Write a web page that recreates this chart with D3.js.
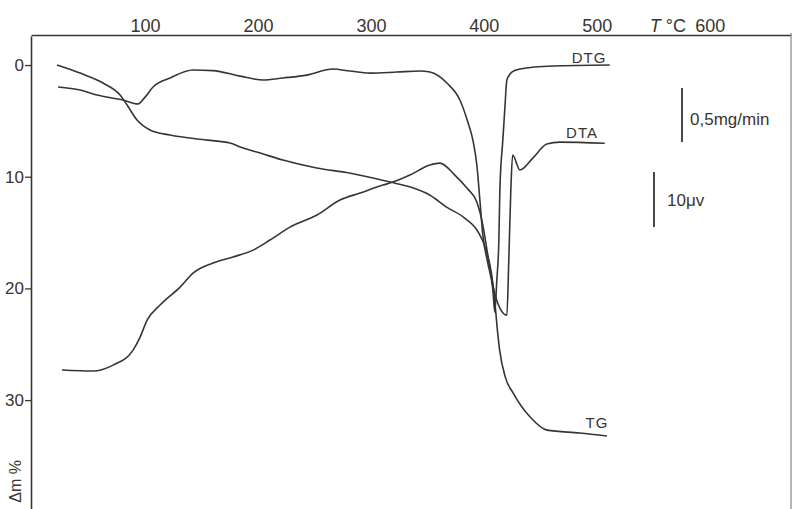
<!DOCTYPE html>
<html><head><meta charset="utf-8">
<script src="https://cdn.jsdelivr.net/npm/d3@7"></script>
<style>
html,body{margin:0;padding:0;background:#fff;}
svg{display:block;}
text{font-family:"Liberation Sans",Arial,sans-serif;fill:#3a342f;}
</style></head>
<body>
<svg id="chart" width="796" height="509"></svg>
<script>
// ---- data (temperature °C, value in left-axis units) ----
const tempTicks = [100, 200, 300, 400, 500, 600];
const massTicks = [0, 10, 20, 30];

const tgT = [22, 42.5, 62.8, 77.9, 84.1, 92.9, 104.4, 122.1, 154.9, 175.2, 184.1, 202, 222, 252, 281, 317, 335, 352, 367, 383, 395, 402, 407, 410, 412, 414, 419, 426, 441, 456, 485, 509];
const tgV = [0, 0.72, 1.61, 2.69, 3.58, 4.93, 5.82, 6.27, 6.72, 6.98, 7.34, 7.88, 8.51, 9.22, 9.67, 10.48, 10.93, 11.64, 12.72, 13.70, 14.95, 16.57, 18.81, 21.49, 23.73, 25.52, 27.94, 29.37, 31.52, 32.69, 32.95, 33.22];

const dtaT = [26.5, 54, 71.7, 89.4, 95.6, 101.8, 113.3, 131, 142.5, 160.2, 177.9, 195.6, 210.6, 228.3, 252.2, 272.6, 290.3, 310.6, 319.5, 334.5, 352.2, 361.1, 374.3, 385, 393.8, 399.1, 403.5, 408, 414.2, 420.4, 422.1, 423.9, 425.5, 431.9, 443.4, 455.8, 467.3, 507];
const dtaV = [27.31, 27.40, 26.87, 25.52, 24.36, 22.84, 21.49, 19.88, 18.63, 17.73, 17.19, 16.57, 15.67, 14.51, 13.43, 12.09, 11.46, 10.75, 10.48, 9.85, 8.95, 8.78, 9.85, 11.01, 12.27, 14.33, 17.01, 19.70, 21.76, 22.39, 17.46, 11.19, 8.06, 9.40, 8.33, 7.07, 6.90, 7.0];

const dtgT = [23, 42.5, 57.5, 80.5, 93.8, 100, 107.1, 122.1, 142.5, 160, 184.1, 204.4, 222.1, 243.4, 266.4, 281.4, 299.1, 323, 343.4, 352.2, 367.3, 378.8, 385.8, 390.3, 393.8, 396.5, 399.1, 403.5, 408, 409.7, 411.5, 413.3, 414.2, 416.8, 418.6, 420.4, 424.8, 431.9, 461, 511.5];
const dtgV = [1.97, 2.24, 2.69, 3.13, 3.49, 2.87, 1.97, 1.16, 0.45, 0.50, 0.99, 1.34, 1.16, 0.90, 0.36, 0.54, 0.72, 0.63, 0.54, 0.63, 1.61, 3.13, 5.10, 6.72, 8.95, 12.09, 15.22, 17.73, 20.15, 22.12, 19.25, 15.67, 11.19, 6.72, 3.90, 1.34, 0.63, 0.36, 0.09, 0.0];

const seriesNames = ["TG", "DTA", "DTG"];
const scaleBarLabels = ["0,5mg/min", "10\u03bcv"];
const axisTitleY = "\u0394m %";

// ---- drawing ----
const svg = d3.select("#chart");
const ink = "#3a342f";

const x = d3.scaleLinear().domain([-1, 672]).range([31, 791]);
const y = d3.scaleLinear().domain([-2.6, 39.75]).range([36, 509]);

// top temperature axis
const gTop = svg.append("g").attr("transform", "translate(0,35)")
  .call(d3.axisTop(x).tickValues(tempTicks).tickSize(0).tickPadding(3).tickFormat(d3.format("d")));
gTop.select(".domain").attr("stroke", ink).attr("stroke-width", 1.6);
gTop.selectAll("text").attr("font-size", 18).attr("fill", ink)
  .attr("font-family", '"Liberation Sans",Arial,sans-serif');

svg.append("text").attr("x", 686).attr("y", 32).attr("text-anchor", "end")
  .attr("font-size", 18)
  .html('<tspan font-style="italic">T</tspan> \u00b0C');

// left mass axis
const gLeft = svg.append("g").attr("transform", "translate(31,0)")
  .call(d3.axisLeft(y).tickValues(massTicks).tickSize(6).tickSizeOuter(0).tickPadding(1));
gLeft.select(".domain").attr("stroke", ink).attr("stroke-width", 1.6);
gLeft.selectAll(".tick line").attr("stroke", ink).attr("stroke-width", 1.3);
gLeft.selectAll("text").attr("font-size", 17).attr("fill", ink)
  .attr("font-family", '"Liberation Sans",Arial,sans-serif');

svg.append("text").attr("transform", "translate(21,460) rotate(-90)")
  .attr("text-anchor", "end").attr("font-size", 16).text(axisTitleY);

// right frame line
svg.append("line").attr("x1", 791).attr("x2", 791).attr("y1", 33).attr("y2", 509)
  .attr("stroke", "#8a8682").attr("stroke-width", 1.2);

// curves
const line = d3.line().x(d => x(d[0])).y(d => y(d[1])).curve(d3.curveMonotoneX);
const series = [
  {name: seriesNames[0], T: tgT, V: tgV},
  {name: seriesNames[1], T: dtaT, V: dtaV},
  {name: seriesNames[2], T: dtgT, V: dtgV}
];
series.forEach(s => {
  const pts = s.T.map((t, i) => [t, s.V[i]]);
  svg.append("path").datum(pts).attr("d", line)
    .attr("fill", "none").attr("stroke", ink).attr("stroke-width", 1.6)
    .attr("stroke-linejoin", "round");
});

// series labels
const lab = [
  {t: "DTG", x: 589, y: 63},
  {t: "DTA", x: 582, y: 138},
  {t: "TG", x: 597, y: 428}
];
lab.forEach(l => svg.append("text").attr("x", l.x).attr("y", l.y)
  .attr("text-anchor", "middle").attr("font-size", 15).attr("letter-spacing", 1).text(l.t));

// scale bars
svg.append("line").attr("x1", 682).attr("x2", 682).attr("y1", 88).attr("y2", 142)
  .attr("stroke", ink).attr("stroke-width", 1.8);
svg.append("text").attr("x", 690).attr("y", 125).attr("font-size", 17).text(scaleBarLabels[0]);
svg.append("line").attr("x1", 654).attr("x2", 654).attr("y1", 172).attr("y2", 227)
  .attr("stroke", ink).attr("stroke-width", 1.8);
svg.append("text").attr("x", 667).attr("y", 206).attr("font-size", 17).text(scaleBarLabels[1]);
</script>
</body></html>
